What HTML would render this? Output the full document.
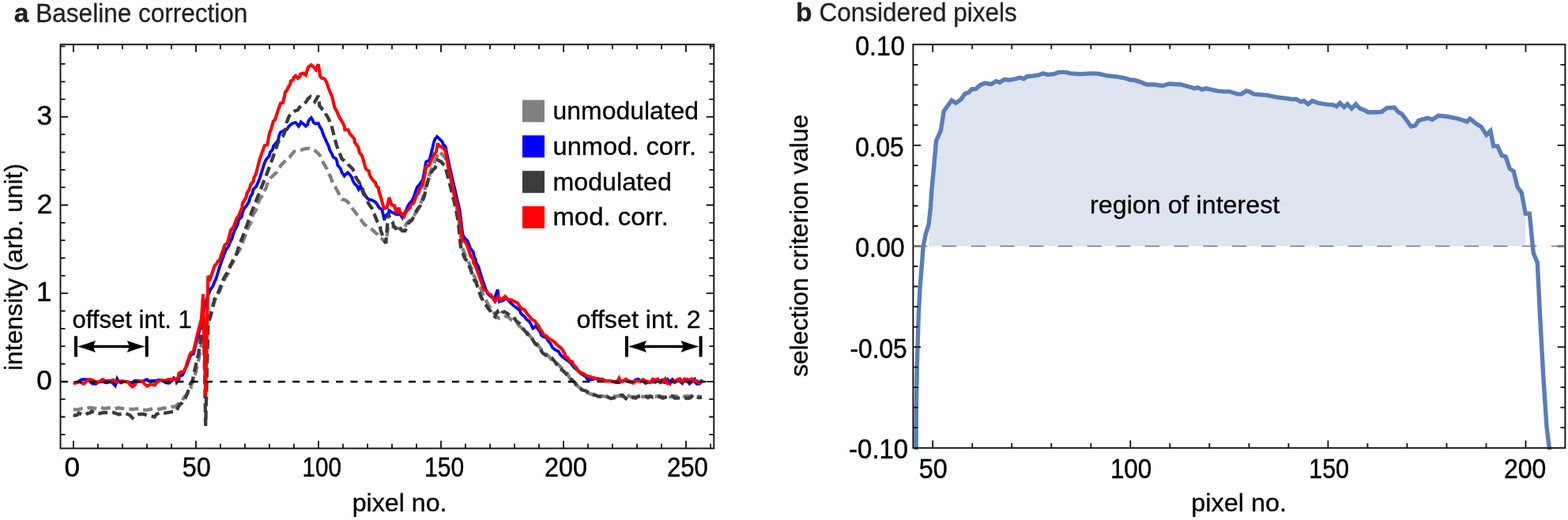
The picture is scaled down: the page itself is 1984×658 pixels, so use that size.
<!DOCTYPE html><html><head><meta charset="utf-8"><style>html,body{margin:0;padding:0;background:#fff;}svg{display:block;}text{font-family:"Liberation Sans",Arial,sans-serif;}</style></head><body>
<svg width="1984" height="658" viewBox="0 0 1984 658">
<rect width="1984" height="658" fill="#fff"/>
<polygon points="1175.3,311.5 1175.3,282.2 1177.4,262.8 1178.9,240 1181.8,210.3 1184.5,178.5 1190.4,165.1 1194.2,140.8 1199,134 1204.1,127.1 1209.4,130.2 1216.2,125.6 1220.8,118.8 1225.3,117.2 1229.9,112.7 1234.5,112.7 1240.5,107.4 1246.6,105.1 1254.2,106.6 1260.3,102.8 1264.9,104.3 1270.9,100.5 1277,101.3 1284.6,99.8 1290.7,98.2 1295.3,99.8 1299.8,96.7 1307.4,96 1313.5,95.2 1319.6,92.9 1325.7,94.4 1333.3,93.7 1339.3,91.4 1348.4,91.4 1354.5,92.9 1366.7,93.7 1380.4,92.9 1389.5,93.3 1401.2,95.8 1413.9,97.1 1424.5,99.2 1430.8,101.3 1435,101.3 1443.5,103.9 1450.9,107 1460.4,107 1471,108.5 1479.5,106 1494.3,107 1504.9,109.8 1511.2,111.9 1515.5,110.6 1520.8,113.4 1526.1,111.9 1532.4,113.4 1540.9,115.1 1549.3,115.9 1555.7,115.9 1566.3,119.1 1570.5,119.1 1576.9,114.9 1581.1,116.1 1586.4,119.1 1593.8,119.7 1602.3,120.4 1615,122.9 1625.6,124.2 1634,125.5 1640.4,125.5 1645.7,128.8 1649.9,127.6 1655.2,131.8 1660.5,127.6 1667.9,130.3 1680.6,132.4 1685.9,132.4 1691.2,134.6 1695.4,130.3 1700.7,135.6 1704.9,131.8 1710.2,137.3 1715.5,131.8 1720.8,137.3 1725,138.8 1731.4,142 1739.9,142 1748.3,141.5 1754.7,136.7 1764.2,136 1769.5,142 1773.7,144.1 1780.1,152.6 1785.4,160 1790.7,158.9 1794.9,152.6 1805.8,149.3 1812.3,151.4 1820,146.2 1831.6,147.5 1844.5,150.1 1856.2,153.9 1860,150.1 1867.8,156.5 1874.2,160.4 1880.7,170.7 1885.9,165.6 1889.7,184.9 1894.9,184.9 1900.1,196.5 1905.2,198.4 1910.2,213.4 1915.2,216.8 1920.2,236.9 1925.2,243.5 1930.2,270.3 1930.2,311.5" fill="#dee4f0"/>
<g fill="none" stroke-linejoin="miter" stroke-miterlimit="3">
<polyline points="92.8,518 94.7,518.4 99,518.2 103.2,517.1 108.1,517.5 112.9,515.9 117.8,516.2 122.4,517.3 127,515.7 131.5,516.8 136.1,516.5 140.7,515.8 145.2,517.2 149.8,516.1 154.3,516.9 158.8,517.4 163.4,517.6 167.9,517.8 172.5,517.4 176.8,517.5 181,518.5 185.3,518.9 189.6,518.1 193.8,516.9 198.1,517.3 202.4,517.8 206.6,516.5 211.9,516.2 217.1,514.8 222.4,514.1 225,511.4 228.7,509.9 230.9,506.8 232.7,503 235.8,500.1 238,497.3 239.4,494 241.6,491 241.8,487 244,484 248,470 252,452 256,430 260,415 261.7,410.5 263.6,406.2 266,402 271.5,381 273.6,376.5 275.4,371.9 278.4,367.8 279.7,363 282.6,359 283.6,354.2 286,350 288.8,346.1 289.4,341.1 291.5,336.9 294.3,333 296.1,329.5 297.9,325.9 298.8,322 302.3,317.9 304.8,313 314.6,286.3 317.5,281.8 319.3,276.9 320.3,271.6 323.2,267.1 325.5,262.4 326.8,257.2 328.6,252 331.8,247.4 333.7,242.3 336.8,237.7 337.9,233.4 340.2,229.6 342,225.6 345.9,221.8 350,218.1 352.9,213.4 355.6,208.9 359.4,205.3 362.6,201.3 366.5,198.8 369.4,195.2 372.3,191.6 376.7,190.8 381.1,189.8 386.3,188.2 391.7,187.7 395,189.4 398.5,190.6 402,193.5 404.9,197 406.8,201.4 408.9,205.7 411.3,209.8 413.6,214 415,218.6 417.7,222.6 421.9,233.2 424.2,236.6 426.2,240.2 428.3,243.8 429.9,248.3 432.6,252.3 435.9,252.9 438.9,254.5 442.6,258.4 445.3,263 448.4,267.3 451.7,271.5 455,275.7 458.1,280 460.8,283.7 464.5,286.4 468,288.1 470.9,290.6 473.1,292.3 474.9,294.4 478,296.9 479.7,300.5 482.2,301.7 484.6,303 486.7,305.2 488.2,307.8 491.3,286 495.5,286 500.4,288.4 503.5,288.9 506.5,289.6 509.8,288.8 512.6,287.1 514.2,282.9 517.4,279.8 520.5,278.1 522.3,275 525.1,271 527.1,266.5 529.5,263.8 530.8,260.4 532.7,256.2 534.4,251.9 538.1,237.3 541,229 545.5,215.3 547.8,210.4 549.6,205.3 551.9,200.4 555.1,191.9 557.9,193.9 560.4,196.2 563,199.1 564.7,202.6 568,215 571.5,232 575.5,252 579.6,272 582.5,295 584.5,312 589,324 591.5,328.5 593.7,333.2 595.5,338 597.6,342.2 598.4,347 601,351 602.1,354.9 604.1,358.5 606,362 608.5,365.3 609.8,369.1 611,373 613.4,377.5 616,382 617.7,385.5 620.1,388.6 622,392 624.8,395.7 628,399 629.4,401.5 632,402.8 635.8,401 640,400 643.7,401.8 647,404.5 650.9,406 654.2,408.7 656.7,412.2 660,414.9 663.7,418.3 667.7,421.3 670.6,425.5 674.1,429.3 678.2,432.6 681,437 684.2,441.4 687.8,445.4 691.9,448.9 695.2,452 698.1,455.6 702,458 706.1,460.9 709.5,464.7 713.2,468.1 716,470.7 718.5,473.5 720,477 722.2,480.2 726,481.8 728.1,485.1 731.5,489.2 736,492 740.5,495 745.1,497.9 749.3,499.1 753.8,498.6 757.7,501.1 762.1,501.1 766.3,501.8 770.6,500.6 774.9,500.9 779.1,501.7 783.4,500.9 787.6,501.6 791.9,501.5 795,501 798.1,501.9 801.2,501.8 804.3,502.3 807.4,501.2 810.5,501.2 813.6,502 816.7,501.9 819.8,501.3 822.9,501.9 826,501.4 829.1,502 832.2,501 835.3,501.2 838.4,502.2 841.5,501.4 844.6,501.2 847.7,502.1 850.8,501.8 853.9,501 857,501.7 860.1,501.9 863.2,501.1 866.3,501.8 869.4,501 872.5,501.3 875.6,500.9 878.7,501.1 881.8,502.4 884.9,501.4 888,502.4" stroke="#808080" stroke-width="4.3" stroke-dasharray="12 6"/>
<polyline points="92.8,484 94.7,484.3 97.8,484.2 100,482 103.8,480.1 108.1,480.1 111.6,480.4 114,483 117.3,485.5 121.5,485.5 123.9,483.5 127,483 130.5,482.7 133.6,484.3 136.9,484 140,483 143.2,485.2 145.8,488 148.2,479.5 149.9,482.6 153.1,484.3 156.4,483 160,483 165,484 168,484.1 170.1,481.9 174.1,482 178,483 182,481.8 185.9,480.1 188.6,482.1 192,481.9 196.9,481.8 201.7,480.7 207,482 210,484.5 213.9,484.9 217.4,481.9 220,478.2 222.8,480.3 223.6,483.7 226.2,480.3 227,476 230.9,474.6 232.9,470.8 234.1,466.7 236.3,463 240.5,451 242.3,448.6 245,447.5 248,435 251,424 255,406 258,392 262,377 266,366.5 269.2,362.4 271.1,357.5 273.3,352.8 276.9,341 280.6,330 286,316 289.2,311.5 291.1,306.4 293.7,301.6 295,296.2 297,291.2 299.4,287 301.1,282.6 302.2,277.8 305.8,274.2 306.7,269.3 308.7,264.2 312.2,259.9 315,255.3 316.4,249.9 319.2,245.2 320.4,239.8 324.5,235.7 326.5,230.7 328.6,225.6 334.7,206.2 337,201.4 340.6,197.5 341.7,192.9 344.9,189.4 345.9,184.8 349.1,181.3 352.1,177.1 353,172 355,167.3 358,165.7 362.6,164.2 365.6,159.7 367.9,157.8 370.2,155.9 374,155.1 376.1,157.3 377.8,159.7 379.7,157.2 380.8,154.3 383.8,156.6 386.9,159.7 389.3,157.5 389.9,154.3 391.4,151.4 393.7,149 395.5,151.9 396.7,155.1 399,156.6 402.8,155.9 403.8,158.6 405.1,161.2 407.1,164 408.1,167.3 409.6,171.6 411.5,175.8 413.4,180 415.7,184.7 417.2,189.7 419.7,194.4 421.9,199.1 424.8,200.5 426.2,203.4 427.1,208.9 430.8,213.2 432.6,218.3 435.7,222.6 437.7,220.3 440,218.3 442.8,221.3 445.3,224.7 446.5,228.8 448.6,232.4 451.7,235.3 453.8,239.6 456,235.3 460.2,246 463.4,249.2 466.6,252.3 470,253.1 474.9,255.5 477.5,259 479.7,262.8 483.4,265.3 486.4,278.6 487,274.5 489.5,271.3 491.9,269.4 492.5,266.5 496.7,268.9 501.6,271.3 506.5,271.3 508.9,275 510,271.5 512.6,268.9 514.5,264.7 516.2,260.4 518.3,257.1 521.1,254.3 523.5,249.5 527.1,238.5 528.6,235.8 530.8,233.6 532.6,230.6 534.9,228.1 539.1,204.7 543.4,202.6 547.7,185.5 548.7,181 550.1,176.6 553,172.8 556.1,176 559.4,179.1 560.9,182.7 563.6,185.5 568.9,211.1 575.3,238.7 581.7,266.4 585.5,297 587.8,301.2 591.4,304.6 593.4,309.1 595.1,314.3 598.7,318.6 599.8,324 601.8,328.2 602.5,332.9 605.1,336.8 610.4,353.8 614.7,366.6 617,371.5 621.1,375.1 623.3,377.2 625.3,379.4 629.6,366.6 631.7,381.5 636.4,380.2 640.2,377.2 643,380 645.8,382.9 648.7,385.7 652.8,389.1 657.2,392.1 659.4,397.1 663.6,400.6 666.4,404.2 670,407 672.2,411.2 674.3,415.5 676.8,413.8 678.5,411.3 680.3,415.7 683.1,419.6 684.9,424 687.8,426.2 691.3,427 693.5,431.4 696.7,435 698.8,439.4 702.6,442.6 706.6,444.6 708.9,448.5 711.9,451.6 715.3,454.3 718.4,456.5 721.5,458.6 723.8,461.7 727,465.6 731.1,468.6 734.5,472.3 737.7,474.3 741,476.4 743,479.8 748.4,480.5 753.6,478.7 758,479.4 762.4,479.9 766.4,481.9 770.8,481.9 775,482.7 779.1,484 783.5,484.2 787.5,481.8 791.9,481.9 795,482.6 798.1,483.8 801.2,483.9 804.3,480.5 807.4,479.7 810.5,482 813.6,481.4 816.7,484.8 819.8,484 822.9,483.4 826,483.2 829.1,483.8 832.2,480.5 835.3,482.4 838.4,480.6 840.5,482.7 841.5,485.4 842.2,482.2 844.6,480 846.2,482.4 847.7,484.8 848.6,482 850.8,480.1 853.9,484 857,481.8 860.1,482.2 863.2,485 864.4,482.1 866.3,479.7 869.4,480 870.4,483 872.5,485.5 875.6,482.9 878.7,480.2 879.3,483.6 881.8,485.9 884.9,485.7 887.2,483.4 888,480.3" stroke="#0000ff" stroke-width="3.8"/>
<polyline points="92.8,525 94.7,525.7 97.7,525 99.6,522.6 104.5,525 107.8,525.1 110.5,523.2 113.7,522.5 116,520.2 120.3,522.6 123.4,521.9 126.3,523.2 131.2,522 134.2,522.2 137.3,522 140.4,521.8 143.4,522 147,523.3 150.7,524.4 154.8,522.9 159.2,523.2 164,525 167.7,528.7 169.6,526.3 172.5,525 175.5,524.3 178.6,523.8 182.4,524.1 185.9,525.7 190.8,526.5 195.6,527.5 197.9,524.2 201.7,522.6 205.3,521.4 209.1,522.7 212.7,522 217.5,521.2 222.4,520.8 224.8,516.6 227.2,512.3 230.1,509.8 231.8,506.4 234.5,503.8 240,490 240.9,485.4 243.7,481.7 246.9,465.7 251.2,447.7 253.3,433.8 254.9,420 256.5,400 257.5,392 260.2,538.9 263.3,412 266,400.5 268.7,390 271.5,378.3 273.9,375.9 275.1,372.8 279.7,361 283.3,351.9 286,347.3 288,344.7 289.7,341.9 291.5,335.5 293.2,332.9 294.3,330 296.8,325.1 299.8,320.5 301,315 308,297 318.9,266.9 328.6,242.6 338.3,218.3 345,200 352,180 354.5,175.6 358.1,171.9 360.3,167.3 362.6,155.1 365.6,147.5 368.6,143 372.4,140.7 377,139.1 378.6,136.3 380.8,133.8 383.8,132.3 387.6,128.5 389.9,124.7 392.9,122.4 396,125.5 398.3,128.5 400.7,124.8 402.8,120.9 404.3,133.8 407.4,137.6 411.2,140.7 412.3,144.3 414.2,147.5 416.2,151.1 417.3,155.1 419.6,157.7 420,161.2 425.7,183.4 432.6,201.3 435.8,203.3 438.9,205.5 441,208.7 443.7,211.3 446.4,214 448.3,218.2 449.6,222.7 451.7,226.8 454.5,230.7 456,235.3 458.8,239.2 460.2,243.8 462.7,247.9 464.5,252.3 465.9,256.9 468.7,260.9 471.5,264.8 473,269.4 477.2,280 479.5,283.2 481,286.7 481.5,290.6 485.7,303.4 488.2,307.8 491.3,270.1 494.3,278.6 497.1,281.8 498,286 500.2,288.1 501.6,290.8 505.3,287.1 507,289.7 508.9,292 512.6,292 515.1,288.1 516.2,283.5 518.4,280.8 521.1,278.6 522.6,276 524.7,273.8 525.9,269.9 527.5,266.3 529.6,262.8 532,260.1 533.2,256.7 535.2,252.5 536.9,248.2 539.3,237.3 541.8,228.1 543.2,223.6 544.9,219.2 547.7,215.3 550.4,212.5 551.9,208.9 554,202.6 558.3,204.7 560.1,207.2 562.6,208.9 566.8,223.8 571.1,240.9 575.3,257.9 579.6,279.1 581.5,298 582.8,311.3 587,324 588.5,327.6 591.3,330.4 595.5,341.1 599.8,353.8 602.5,357.8 604,362.3 608.3,375.1 610.3,378.7 611.7,382.7 614.7,385.7 617.7,390.1 621.1,394.3 622.9,398.1 626.4,400.6 627.3,397.1 629.6,394.3 630.9,397.2 633.8,398.5 635.2,395.6 638.1,394.3 641.4,396.2 644.5,398.5 648.3,399.7 650.9,402.8 653.5,406.5 657.2,409.1 660,412.8 662.8,417.3 666.4,421.3 668.8,425.3 672.8,427.7 675.1,431.7 677.6,435.4 681.3,438.3 684.1,441.9 686.1,446.1 689.8,448.9 693.8,451.6 698.3,453.2 701.8,457.2 704.7,461.7 707.1,465.7 711.1,468.1 714.5,471.1 717.4,474.5 721.1,477.2 723.8,480.9 727.8,484.5 730.2,489.4 733.4,491.4 736.6,493.6 741.1,494.5 745.1,496.8 749,499.4 753.6,500 757.6,501.9 762.1,501.7 765.8,501.9 769.5,502.5 772.8,504.3 777.1,503.3 781.3,502.1 784.3,500.3 787.7,500 789.7,502.2 791.9,504.3 795,501.6 798.1,503.2 801.2,503.2 804.3,503.8 807.4,501.4 810.5,501.5 813.6,501.2 816.7,501.5 819.8,503.3 822.9,501.2 826,502.6 829.1,501.5 832.2,501.8 835.3,502.3 838.4,503.7 841.5,502.9 844.6,500.8 847.7,501.7 850.8,501.2 853.9,503.8 857,503.6 860.1,503.6 863.2,503.7 866.3,503.4 869.4,504.1 872.5,503.6 875.6,501.6 878.7,503.8 881.8,502.5 884.9,503.4 888,502.7" stroke="#3b3b3b" stroke-width="4.3" stroke-dasharray="12 6"/>
<polyline points="92.8,485 96,484.5 100.8,483.1 105.7,485.5 109,483 111.2,480.8 114.2,480.1 117.8,481.3 120.7,483 123.9,483.7 127,482 130,480.1 133.5,482 137.3,481.9 140.4,481.6 143.4,480.7 145.8,482.2 148.2,483.7 152,482.5 155.1,482.1 158,483.1 162.8,483.7 164.7,487 167.7,489.2 170.7,487 172.5,483.7 176,482 179.8,482.5 182.8,485.6 185.9,488.6 188.4,487.4 190.8,486.1 195.6,487.4 197.6,484.5 200.5,482.5 204,480.9 207.8,481.9 210.8,480.7 213.9,480.1 217,480 220,479.5 223.5,481.7 225.6,476.4 226.2,472.9 228.8,470.5 232,470.5 234.9,465.7 236.3,460.4 240.5,448.2 242.2,445.8 244.8,444.5 248,430.6 250.6,420 255,403 256.9,372.4 260.2,501.4 263.3,349.1 266,352.8 271.5,336.4 274.2,333.6 275.5,330.9 277.8,329 283.2,313.7 284.5,309.9 287.8,307.6 292.1,291.2 295.7,286.9 297.5,281.7 299.4,276.6 302.7,272.2 304.3,266.9 306.4,262.6 306.8,257.5 309.3,253.4 311.6,249.1 312.5,244.3 315.2,240.2 317.6,232.9 320.7,229.4 321.4,224.6 323.7,220.7 328.6,201.3 334.7,184.3 338.3,183.1 341,168.5 342.8,164.2 345.8,153.6 348.1,151.3 351.2,141.4 355,130.8 358,130 360.3,120.2 360.6,117.1 362.6,114.8 364.8,110.3 367.1,106.8 367.9,102.7 370.9,101.2 371.6,98 374,95.8 377,98.9 379.5,96.8 380,93.6 383.8,92.8 386.9,95.1 389.9,85.2 393.7,82.2 396.7,84.4 399.8,88.2 401.2,84.8 402.8,81.4 405.1,96.6 407.4,98.9 410.4,99.6 412.7,102.7 415,109.5 417.3,115.6 418.5,118.6 420,121.5 423.6,136.6 426.1,140.7 427.9,145.1 430,149.4 432.9,154 435.4,158.9 436.4,164.3 440.6,164.3 442.5,169.1 446,172.8 448.4,176 448.9,180.2 451.3,183.4 453.2,185.6 453.8,188.5 454.9,193.3 458.1,197 462.3,211.9 463.7,214.8 466.6,216.2 467.4,220 468.8,223.5 470.9,226.8 472.8,229.1 475.1,231.1 476,234.9 478.9,237.8 479.4,241.7 482.2,250.7 485.8,264 489.5,262.8 492.5,250 495.5,259.2 499.2,260.4 501.6,270.1 503.1,266.4 504.7,262.8 505.4,266.8 507.7,270.1 511.3,273.8 513.1,269.2 516.2,265.3 518.9,262.8 519.8,259.2 523.5,256.7 527.1,247 529.8,243.8 530.8,239.7 532.4,237.2 534.4,234.9 537,223.8 539.1,211.1 543.4,208.9 544.5,205.2 546.1,201.8 547.7,198.3 549.6,194.9 551.9,191.9 554,181.3 555.3,184.3 558.3,185.5 561.2,188 563.6,190.9 566.8,208.9 571.1,228.1 575.3,247.2 579.6,264.3 582.8,285 585,303 589.1,306.4 591.3,311.3 595.5,324 598.6,327.8 599.3,332.8 601.9,336.8 607.2,351.7 612.6,366.6 615.7,367.7 617.5,371.3 621.1,373 623.8,377.2 626.4,381.5 628.5,378.3 630.6,375.1 633.8,379.4 636.5,377.4 639.1,375.1 641.4,377.8 644.5,379.4 647.9,379.8 650.9,381.5 655.1,383.6 657,387 659.4,390 663.6,392.1 666.7,396.4 670,400.6 671.9,403 674.3,404.9 677,406.4 678.5,409.1 681.4,412.1 682.8,416 685.6,419.5 687.7,423.4 691.9,425.5 693.9,428.5 697.2,429.8 700.1,431.6 702.6,434 704.7,436.2 707.2,438.5 710,440.4 712.2,443.7 714.5,447.1 715.3,451.1 718.7,453 720.6,456.4 723.8,457.4 725.8,461.6 729.1,464.9 731.2,468.6 734.5,471.3 737.8,472.6 740.9,474.5 743.9,476 747.2,476.6 750.3,478.1 753.6,478.7 757.6,480.6 762.1,480.4 766.1,482.3 770.6,481.9 774.4,482.4 778.1,483.4 781.6,482 783.4,478.7 784.7,481.7 787.7,483 791.9,479.8 795,481.9 798.1,482.6 801.2,484.7 804.3,482 807.4,482.2 810.5,482.7 813.6,480.3 816.7,482.3 819.8,483 822.9,484 826,479.8 829.1,481 832.2,479.7 835.3,484.1 838.4,483.4 841.5,479.5 842.9,482.4 844.6,485.1 847.7,485 850.8,483.1 853.9,482.9 857,480.1 860.1,479.3 863.2,482.4 866.3,479.6 869.4,480.3 872.5,480.7 875.6,479.4 878.7,482 881.8,481.8 884.9,484.3 888,482.3" stroke="#ff0000" stroke-width="4.1"/>
</g>
<line x1="76.5" y1="482.9" x2="903.3" y2="482.9" stroke="#000" stroke-width="2.5" stroke-dasharray="9.1 9.25"/>
<clipPath id="cb"><rect x="1152.4" y="56.3" width="828" height="513"/></clipPath>
<polyline clip-path="url(#cb)" points="1159,578 1159.4,520 1160.4,460 1162.2,400 1164,365 1166,340 1168.2,311.4 1169.8,303.8 1171.3,296.2 1175.1,284.1 1177.4,262.8 1178.9,240 1181.8,210.3 1184.5,178.5 1190.4,165.1 1194.2,140.8 1199,134 1204.1,127.1 1209.4,130.2 1216.2,125.6 1220.8,118.8 1225.3,117.2 1229.9,112.7 1234.5,112.7 1240.5,107.4 1246.6,105.1 1254.2,106.6 1260.3,102.8 1264.9,104.3 1270.9,100.5 1277,101.3 1284.6,99.8 1290.7,98.2 1295.3,99.8 1299.8,96.7 1307.4,96 1313.5,95.2 1319.6,92.9 1325.7,94.4 1333.3,93.7 1339.3,91.4 1348.4,91.4 1354.5,92.9 1366.7,93.7 1380.4,92.9 1389.5,93.3 1401.2,95.8 1413.9,97.1 1424.5,99.2 1430.8,101.3 1435,101.3 1443.5,103.9 1450.9,107 1460.4,107 1471,108.5 1479.5,106 1494.3,107 1504.9,109.8 1511.2,111.9 1515.5,110.6 1520.8,113.4 1526.1,111.9 1532.4,113.4 1540.9,115.1 1549.3,115.9 1555.7,115.9 1566.3,119.1 1570.5,119.1 1576.9,114.9 1581.1,116.1 1586.4,119.1 1593.8,119.7 1602.3,120.4 1615,122.9 1625.6,124.2 1634,125.5 1640.4,125.5 1645.7,128.8 1649.9,127.6 1655.2,131.8 1660.5,127.6 1667.9,130.3 1680.6,132.4 1685.9,132.4 1691.2,134.6 1695.4,130.3 1700.7,135.6 1704.9,131.8 1710.2,137.3 1715.5,131.8 1720.8,137.3 1725,138.8 1731.4,142 1739.9,142 1748.3,141.5 1754.7,136.7 1764.2,136 1769.5,142 1773.7,144.1 1780.1,152.6 1785.4,160 1790.7,158.9 1794.9,152.6 1805.8,149.3 1812.3,151.4 1820,146.2 1831.6,147.5 1844.5,150.1 1856.2,153.9 1860,150.1 1867.8,156.5 1874.2,160.4 1880.7,170.7 1885.9,165.6 1889.7,184.9 1894.9,184.9 1900.1,196.5 1905.2,198.4 1910.2,213.4 1915.2,216.8 1920.2,236.9 1925.2,243.5 1930.2,270.3 1935.3,270.3 1940.3,320.5 1945.3,332.2 1948.6,400 1953,480 1957,540 1961.3,575" fill="none" stroke="#5a7dbb" stroke-width="5.4" stroke-linejoin="miter" stroke-miterlimit="3"/>
<rect x="76.5" y="56.3" width="826.8" height="511.1" fill="none" stroke="#111" stroke-width="1.9"/>
<rect x="1155.4" y="56.3" width="825" height="510.5" fill="none" stroke="#111" stroke-width="1.9"/>
<path d="M92.9 567.4v-9.6M92.9 56.3v9.6M123.9 567.4v-6M123.9 56.3v6M154.9 567.4v-6M154.9 56.3v6M185.9 567.4v-6M185.9 56.3v6M216.9 567.4v-6M216.9 56.3v6M247.9 567.4v-9.6M247.9 56.3v9.6M278.9 567.4v-6M278.9 56.3v6M309.9 567.4v-6M309.9 56.3v6M340.9 567.4v-6M340.9 56.3v6M372 567.4v-6M372 56.3v6M403 567.4v-9.6M403 56.3v9.6M434 567.4v-6M434 56.3v6M465 567.4v-6M465 56.3v6M496 567.4v-6M496 56.3v6M527 567.4v-6M527 56.3v6M558 567.4v-9.6M558 56.3v9.6M589 567.4v-6M589 56.3v6M620 567.4v-6M620 56.3v6M651 567.4v-6M651 56.3v6M682 567.4v-6M682 56.3v6M713 567.4v-9.6M713 56.3v9.6M744 567.4v-6M744 56.3v6M775 567.4v-6M775 56.3v6M806 567.4v-6M806 56.3v6M837 567.4v-6M837 56.3v6M868 567.4v-9.6M868 56.3v9.6M899.1 567.4v-6M899.1 56.3v6M76.5 549.8h6M903.3 549.8h-6M76.5 527.5h6M903.3 527.5h-6M76.5 505.1h6M903.3 505.1h-6M76.5 482.8h9.6M903.3 482.8h-9.6M76.5 460.5h6M903.3 460.5h-6M76.5 438.1h6M903.3 438.1h-6M76.5 415.8h6M903.3 415.8h-6M76.5 393.5h6M903.3 393.5h-6M76.5 371.2h9.6M903.3 371.2h-9.6M76.5 348.8h6M903.3 348.8h-6M76.5 326.5h6M903.3 326.5h-6M76.5 304.2h6M903.3 304.2h-6M76.5 281.9h6M903.3 281.9h-6M76.5 259.5h9.6M903.3 259.5h-9.6M76.5 237.2h6M903.3 237.2h-6M76.5 214.9h6M903.3 214.9h-6M76.5 192.6h6M903.3 192.6h-6M76.5 170.2h6M903.3 170.2h-6M76.5 147.9h9.6M903.3 147.9h-9.6M76.5 125.6h6M903.3 125.6h-6M76.5 103.3h6M903.3 103.3h-6M76.5 80.9h6M903.3 80.9h-6M76.5 58.6h6M903.3 58.6h-6M1180.2 566.8v-9.6M1180.2 56.3v9.6M1230.2 566.8v-6M1230.2 56.3v6M1280.2 566.8v-6M1280.2 56.3v6M1330.3 566.8v-6M1330.3 56.3v6M1380.3 566.8v-6M1380.3 56.3v6M1430.3 566.8v-9.6M1430.3 56.3v9.6M1480.3 566.8v-6M1480.3 56.3v6M1530.3 566.8v-6M1530.3 56.3v6M1580.4 566.8v-6M1580.4 56.3v6M1630.4 566.8v-6M1630.4 56.3v6M1680.4 566.8v-9.6M1680.4 56.3v9.6M1730.4 566.8v-6M1730.4 56.3v6M1780.4 566.8v-6M1780.4 56.3v6M1830.5 566.8v-6M1830.5 56.3v6M1880.5 566.8v-6M1880.5 56.3v6M1930.5 566.8v-9.6M1930.5 56.3v9.6M1155.4 541.2h6M1980.4 541.2h-6M1155.4 515.7h6M1980.4 515.7h-6M1155.4 490.1h6M1980.4 490.1h-6M1155.4 464.6h6M1980.4 464.6h-6M1155.4 439.1h9.6M1980.4 439.1h-9.6M1155.4 413.6h6M1980.4 413.6h-6M1155.4 388.1h6M1980.4 388.1h-6M1155.4 362.5h6M1980.4 362.5h-6M1155.4 337h6M1980.4 337h-6M1155.4 311.5h9.6M1980.4 311.5h-9.6M1155.4 286h6M1980.4 286h-6M1155.4 260.5h6M1980.4 260.5h-6M1155.4 234.9h6M1980.4 234.9h-6M1155.4 209.4h6M1980.4 209.4h-6M1155.4 183.9h9.6M1980.4 183.9h-9.6M1155.4 158.4h6M1980.4 158.4h-6M1155.4 132.9h6M1980.4 132.9h-6M1155.4 107.3h6M1980.4 107.3h-6M1155.4 81.8h6M1980.4 81.8h-6" stroke="#111" stroke-width="1.8" fill="none"/>
<line x1="1155.4" y1="311.5" x2="1980.4" y2="311.5" stroke="#777" stroke-width="1.6" stroke-dasharray="18.2 18.5"/>
<g fill="#000" stroke="#000"><line x1="96" y1="425.3" x2="96" y2="451.6" stroke-width="4"/><line x1="185.7" y1="425.3" x2="185.7" y2="451.6" stroke-width="4"/><line x1="108" y1="438.5" x2="173.7" y2="438.5" stroke-width="3.4"/><path stroke="none" d="M98 438.5Q110 435.3 121 431.1L117.8 438.5L121 445.9Q110 441.7 98 438.5Z"/><path stroke="none" d="M183.7 438.5Q171.7 435.3 160.7 431.1L163.9 438.5L160.7 445.9Q171.7 441.7 183.7 438.5Z"/></g>
<g fill="#000" stroke="#000"><line x1="793" y1="425.3" x2="793" y2="451.6" stroke-width="4"/><line x1="886.6" y1="425.3" x2="886.6" y2="451.6" stroke-width="4"/><line x1="805" y1="438.5" x2="874.6" y2="438.5" stroke-width="3.4"/><path stroke="none" d="M795 438.5Q807 435.3 818 431.1L814.8 438.5L818 445.9Q807 441.7 795 438.5Z"/><path stroke="none" d="M884.6 438.5Q872.6 435.3 861.6 431.1L864.8 438.5L861.6 445.9Q872.6 441.7 884.6 438.5Z"/></g>
<rect x="661" y="126.5" width="28" height="28" fill="#808080"/>
<rect x="661" y="171.3" width="28" height="28" fill="#0000ff"/>
<rect x="661" y="216.2" width="28" height="28" fill="#3b3b3b"/>
<rect x="661" y="261" width="28" height="28" fill="#ff0000"/>
<text x="17.7" y="27.7" font-size="33.5" fill="#231f20" stroke="#231f20" stroke-width="0.3" font-weight="bold">a</text>
<text x="45.3" y="27.7" font-size="33.5" fill="#231f20" stroke="#231f20" stroke-width="0.3" textLength="268.1" lengthAdjust="spacingAndGlyphs">Baseline correction</text>
<text x="1007.1" y="26.7" font-size="33.5" fill="#231f20" stroke="#231f20" stroke-width="0.3" font-weight="bold">b</text>
<text x="1036.4" y="26.7" font-size="33.5" fill="#231f20" stroke="#231f20" stroke-width="0.3" textLength="250.5" lengthAdjust="spacingAndGlyphs">Considered pixels</text>
<text x="46.3" y="493.3" font-size="35" fill="#000" stroke="#000" stroke-width="0.45">0</text>
<text x="46" y="381.1" font-size="35" fill="#000" stroke="#000" stroke-width="0.45">1</text>
<text x="46.7" y="269.6" font-size="35" fill="#000" stroke="#000" stroke-width="0.45">2</text>
<text x="46.6" y="158.3" font-size="35" fill="#000" stroke="#000" stroke-width="0.45">3</text>
<text x="81.5" y="603.4" font-size="35" fill="#000" stroke="#000" stroke-width="0.45">0</text>
<text x="230.7" y="603.4" font-size="35" fill="#000" stroke="#000" stroke-width="0.45" textLength="35.9" lengthAdjust="spacingAndGlyphs">50</text>
<text x="382.6" y="603.4" font-size="35" fill="#000" stroke="#000" stroke-width="0.45" textLength="49.4" lengthAdjust="spacingAndGlyphs">100</text>
<text x="537.1" y="603.4" font-size="35" fill="#000" stroke="#000" stroke-width="0.45" textLength="50.1" lengthAdjust="spacingAndGlyphs">150</text>
<text x="689" y="603.4" font-size="35" fill="#000" stroke="#000" stroke-width="0.45" textLength="54" lengthAdjust="spacingAndGlyphs">200</text>
<text x="843.9" y="603.4" font-size="35" fill="#000" stroke="#000" stroke-width="0.45" textLength="52" lengthAdjust="spacingAndGlyphs">250</text>
<text x="1082.2" y="70" font-size="35" fill="#000" stroke="#000" stroke-width="0.45" textLength="62.7" lengthAdjust="spacingAndGlyphs">0.10</text>
<text x="1082.2" y="197.7" font-size="35" fill="#000" stroke="#000" stroke-width="0.45" textLength="61.5" lengthAdjust="spacingAndGlyphs">0.05</text>
<text x="1082.2" y="325.4" font-size="35" fill="#000" stroke="#000" stroke-width="0.45" textLength="62.4" lengthAdjust="spacingAndGlyphs">0.00</text>
<text x="1075.4" y="453" font-size="35" fill="#000" stroke="#000" stroke-width="0.45" textLength="72.4" lengthAdjust="spacingAndGlyphs">-0.05</text>
<text x="1074.1" y="580.3" font-size="35" fill="#000" stroke="#000" stroke-width="0.45" textLength="75.1" lengthAdjust="spacingAndGlyphs">-0.10</text>
<text x="1162.8" y="605.3" font-size="35" fill="#000" stroke="#000" stroke-width="0.45" textLength="36" lengthAdjust="spacingAndGlyphs">50</text>
<text x="1404.9" y="605.3" font-size="35" fill="#000" stroke="#000" stroke-width="0.45" textLength="52.4" lengthAdjust="spacingAndGlyphs">100</text>
<text x="1656.3" y="605.3" font-size="35" fill="#000" stroke="#000" stroke-width="0.45" textLength="50.7" lengthAdjust="spacingAndGlyphs">150</text>
<text x="1902.9" y="605.3" font-size="35" fill="#000" stroke="#000" stroke-width="0.45" textLength="53.4" lengthAdjust="spacingAndGlyphs">200</text>
<text x="445.7" y="646.7" font-size="31.5" fill="#000" stroke="#000" stroke-width="0.3" textLength="119.8" lengthAdjust="spacingAndGlyphs">pixel no.</text>
<text x="1507.3" y="647" font-size="31.5" fill="#000" stroke="#000" stroke-width="0.3" textLength="120.6" lengthAdjust="spacingAndGlyphs">pixel no.</text>
<text x="28.1" y="469" font-size="31.5" fill="#000" stroke="#000" stroke-width="0.3" textLength="262" lengthAdjust="spacingAndGlyphs" transform="rotate(-90 28.1 469)">intensity (arb. unit)</text>
<text x="1022.2" y="476.8" font-size="31.5" fill="#000" stroke="#000" stroke-width="0.3" textLength="332.1" lengthAdjust="spacingAndGlyphs" transform="rotate(-90 1022.2 476.8)">selection criterion value</text>
<text x="699.6" y="150.6" font-size="31.5" fill="#000" stroke="#000" stroke-width="0.3" textLength="184.5" lengthAdjust="spacingAndGlyphs">unmodulated</text>
<text x="699.5" y="195.7" font-size="31.5" fill="#000" stroke="#000" stroke-width="0.3" textLength="181.5" lengthAdjust="spacingAndGlyphs">unmod. corr.</text>
<text x="699.5" y="240.5" font-size="31.5" fill="#000" stroke="#000" stroke-width="0.3" textLength="150.3" lengthAdjust="spacingAndGlyphs">modulated</text>
<text x="699.4" y="285.2" font-size="31.5" fill="#000" stroke="#000" stroke-width="0.3" textLength="146.4" lengthAdjust="spacingAndGlyphs">mod. corr.</text>
<text x="91.5" y="414.6" font-size="31.5" fill="#000" stroke="#000" stroke-width="0.3" textLength="151.3" lengthAdjust="spacingAndGlyphs">offset int. 1</text>
<text x="729.6" y="414.7" font-size="31.5" fill="#000" stroke="#000" stroke-width="0.3" textLength="157.2" lengthAdjust="spacingAndGlyphs">offset int. 2</text>
<text x="1379.1" y="270.2" font-size="31.5" fill="#000" stroke="#000" stroke-width="0.3" textLength="240.2" lengthAdjust="spacingAndGlyphs">region of interest</text>
</svg></body></html>
